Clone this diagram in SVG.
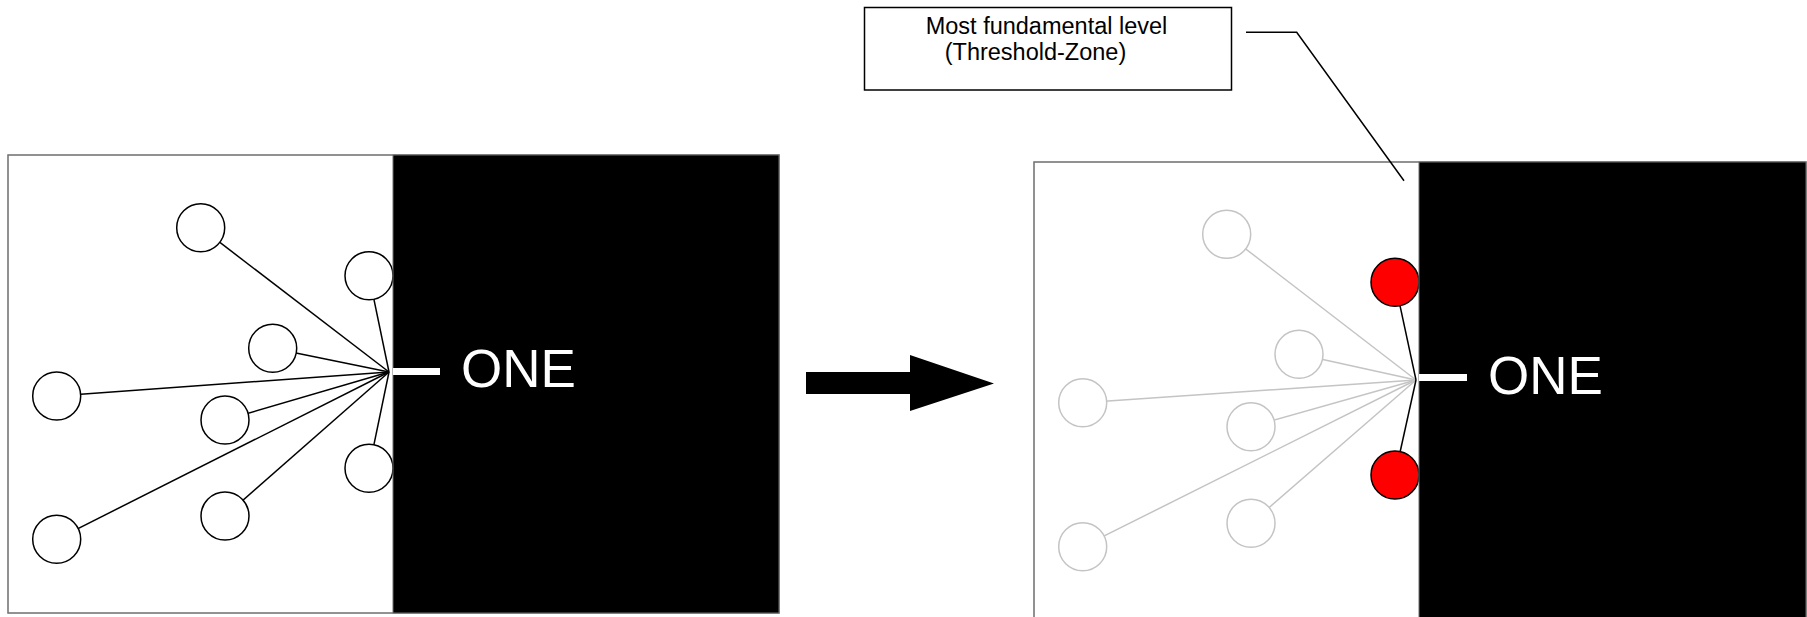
<svg xmlns="http://www.w3.org/2000/svg" width="1807" height="617" viewBox="0 0 1807 617">
  <style>
    .frame { fill: #ffffff; stroke: #6e6e6e; stroke-width: 1.5; }
    .dark { fill: #000000; stroke: #6e6e6e; stroke-width: 1; }
    .n { fill: #ffffff; stroke: #000000; stroke-width: 1.5; }
    .ng { fill: #ffffff; stroke: #c4c4c4; stroke-width: 1.5; }
    .nr { fill: #ff0000; stroke: #000000; stroke-width: 1.5; }
    .l { stroke: #000000; stroke-width: 1.5; fill: none; }
    .lg { stroke: #c4c4c4; stroke-width: 1.5; fill: none; }
    .one { font-family: "Liberation Sans", Arial, sans-serif; font-size: 53px; fill: #ffffff; }
    .lbl { font-family: "Liberation Sans", Arial, sans-serif; font-size: 23.5px; fill: #000000; text-anchor: middle; }
  </style>
  <rect width="1807" height="617" fill="#ffffff"/>

  <!-- LEFT PANEL -->
  <g id="left-panel">
    <rect class="frame" x="8" y="155" width="771" height="458"/>
  </g>
  <g id="left-connectors">
    <line class="l" x1="200.7" y1="227.7" x2="389" y2="372"/>
    <line class="l" x1="369" y1="275.7" x2="389" y2="372"/>
    <line class="l" x1="272.7" y1="348.3" x2="389" y2="372"/>
    <line class="l" x1="56.7" y1="396" x2="389" y2="372"/>
    <line class="l" x1="225" y1="420" x2="389" y2="372"/>
    <line class="l" x1="369" y1="468.3" x2="389" y2="372"/>
    <line class="l" x1="225" y1="516" x2="389" y2="372"/>
    <line class="l" x1="56.7" y1="539.3" x2="389" y2="372"/>
  </g>
  <g id="left-nodes">
    <circle id="l-a" class="n" cx="200.7" cy="227.7" r="24"/>
    <circle id="l-b" class="n" cx="369" cy="275.7" r="24"/>
    <circle id="l-c" class="n" cx="272.7" cy="348.3" r="24"/>
    <circle id="l-d" class="n" cx="56.7" cy="396" r="24"/>
    <circle id="l-e" class="n" cx="225" cy="420" r="24"/>
    <circle id="l-f" class="n" cx="369" cy="468.3" r="24"/>
    <circle id="l-g" class="n" cx="225" cy="516" r="24"/>
    <circle id="l-h" class="n" cx="56.7" cy="539.3" r="24"/>
  </g>
  <g id="left-one">
    <rect class="dark" x="393" y="155" width="386" height="458"/>
    <rect x="393" y="368" width="47" height="7" fill="#ffffff"/>
    <text class="one" x="461" y="387">ONE</text>
  </g>

  <!-- ARROW -->
  <g id="arrow">
    <polygon points="806,372 910,372 910,355 994,383.5 910,411 910,394 806,394" fill="#000000"/>
  </g>

  <!-- RIGHT PANEL -->
  <g id="right-panel">
    <rect class="frame" x="1034" y="162" width="772" height="470"/>
  </g>
  <g id="right-connectors">
    <line class="lg" x1="1226.7" y1="234.3" x2="1416" y2="380"/>
    <line class="lg" x1="1299" y1="354.3" x2="1416" y2="380"/>
    <line class="lg" x1="1082.7" y1="402.7" x2="1416" y2="380"/>
    <line class="lg" x1="1251" y1="426.7" x2="1416" y2="380"/>
    <line class="lg" x1="1251" y1="523.3" x2="1416" y2="380"/>
    <line class="lg" x1="1082.7" y1="546.7" x2="1416" y2="380"/>
    <line class="l" x1="1395" y1="282.3" x2="1416" y2="380"/>
    <line class="l" x1="1395" y1="475" x2="1416" y2="380"/>
  </g>
  <g id="right-nodes">
    <circle id="r-a" class="ng" cx="1226.7" cy="234.3" r="24"/>
    <circle id="r-c" class="ng" cx="1299" cy="354.3" r="24"/>
    <circle id="r-d" class="ng" cx="1082.7" cy="402.7" r="24"/>
    <circle id="r-e" class="ng" cx="1251" cy="426.7" r="24"/>
    <circle id="r-g" class="ng" cx="1251" cy="523.3" r="24"/>
    <circle id="r-h" class="ng" cx="1082.7" cy="546.7" r="24"/>
    <circle id="r-red-top" class="nr" cx="1395" cy="282.3" r="24"/>
    <circle id="r-red-bottom" class="nr" cx="1395" cy="475" r="24"/>
  </g>
  <g id="right-one">
    <rect class="dark" x="1419" y="162" width="387" height="470"/>
    <rect x="1419" y="374" width="48" height="7" fill="#ffffff"/>
    <text class="one" x="1488" y="394">ONE</text>
  </g>

  <!-- CALLOUT -->
  <g id="callout">
    <rect x="864.5" y="7.5" width="367" height="82.5" fill="#ffffff" stroke="#000000" stroke-width="1.5"/>
    <text class="lbl" x="1046.5" y="34">Most fundamental level</text>
    <text class="lbl" x="1035.5" y="60">(Threshold-Zone)</text>
  </g>
  <g id="callout-connector">
    <polyline class="l" points="1246,32.3 1296.7,32.3 1404,180.7"/>
  </g>
</svg>
